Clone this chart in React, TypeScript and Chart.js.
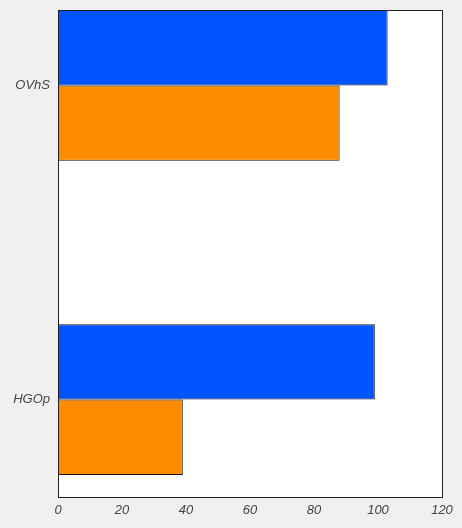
import React, { useEffect, useRef } from "react";
import { Chart, registerables } from "chart.js";

Chart.register(...registerables);

const categories = ["OVhS", "HGOp"];
const blueValues = [103, 99];
const orangeValues = [88, 39];
const xTickValues = [0, 20, 40, 60, 80, 100, 120];

export default function App() {
  const ref = useRef<HTMLCanvasElement>(null);

  useEffect(() => {
    if (!ref.current) return;
    const framePlugin = {
      id: "frame",
      afterDatasetsDraw(chart: any) {
        const { ctx, chartArea: a } = chart;
        ctx.save();
        ctx.strokeStyle = "#222";
        ctx.lineWidth = 1;
        ctx.strokeRect(
          Math.round(a.left) + 0.5,
          Math.round(a.top) + 0.5,
          Math.round(a.right - a.left),
          Math.round(a.bottom - a.top)
        );
        ctx.restore();
      },
    };
    const bgPlugin = {
      id: "bg",
      beforeDraw(chart: any) {
        const { ctx, chartArea: a, width, height } = chart;
        ctx.save();
        ctx.fillStyle = "#f0f0f0";
        ctx.fillRect(0, 0, width, height);
        ctx.fillStyle = "#ffffff";
        ctx.fillRect(a.left, a.top, a.right - a.left, a.bottom - a.top);
        ctx.restore();
      },
    };
    const font = { family: "'Liberation Sans', Arial, sans-serif", size: 13, style: "italic" as const };
    const chart = new Chart(ref.current, {
      type: "bar",
      data: {
        datasets: [
          {
            label: "blue",
            data: categories.map((_, i) => ({ x: blueValues[i], y: i })),
            backgroundColor: "#0055ff",
            borderColor: "#111",
            borderWidth: 1,
            borderSkipped: false,
          },
          {
            label: "orange",
            data: categories.map((_, i) => ({ x: orangeValues[i], y: i })),
            backgroundColor: "#ff8c00",
            borderColor: "#111",
            borderWidth: 1,
            borderSkipped: false,
          },
        ],
      },
      options: {
        animation: false,
        responsive: false,
        indexAxis: "y",
        categoryPercentage: 0.48,
        barPercentage: 1,
        layout: { padding: { top: 10, right: 20, left: 0, bottom: 0 } },
        plugins: { legend: { display: false }, tooltip: { enabled: false } },
        scales: {
          x: {
            type: "linear",
            min: 0,
            max: 120,
            offset: false,
            afterBuildTicks: (s: any) => {
              s.ticks = xTickValues.map((v) => ({ value: v }));
            },
            afterFit: (s: any) => {
              s.height = 31;
              s.paddingLeft = 0;
              s.paddingRight = 0;
            },
            grid: { display: false, drawTicks: false },
            border: { display: false },
            ticks: { color: "#444", font, padding: 6, maxRotation: 0 },
          },
          y: {
            type: "linear",
            reverse: true,
            offset: false,
            min: -0.24,
            max: 1.31,
            afterBuildTicks: (s: any) => {
              s.ticks = categories.map((_, i) => ({ value: i }));
            },
            afterFit: (s: any) => {
              s.width = 58;
              s.paddingTop = 0;
              s.paddingBottom = 0;
            },
            grid: { display: false, drawTicks: false, offset: false },
            border: { display: false },
            ticks: {
              color: "#444",
              font,
              padding: 8,
              callback: (v: any) => categories[Math.round(Number(v))] ?? "",
            },
          },
        },
      },
      plugins: [bgPlugin, framePlugin],
    });
    return () => chart.destroy();
  }, []);

  return (
    <div style={{ position: "fixed", left: 0, top: 0, width: 462, height: 528, background: "#f0f0f0" }}>
      <canvas ref={ref} width={462} height={528} style={{ display: "block" }} />
    </div>
  );
}
